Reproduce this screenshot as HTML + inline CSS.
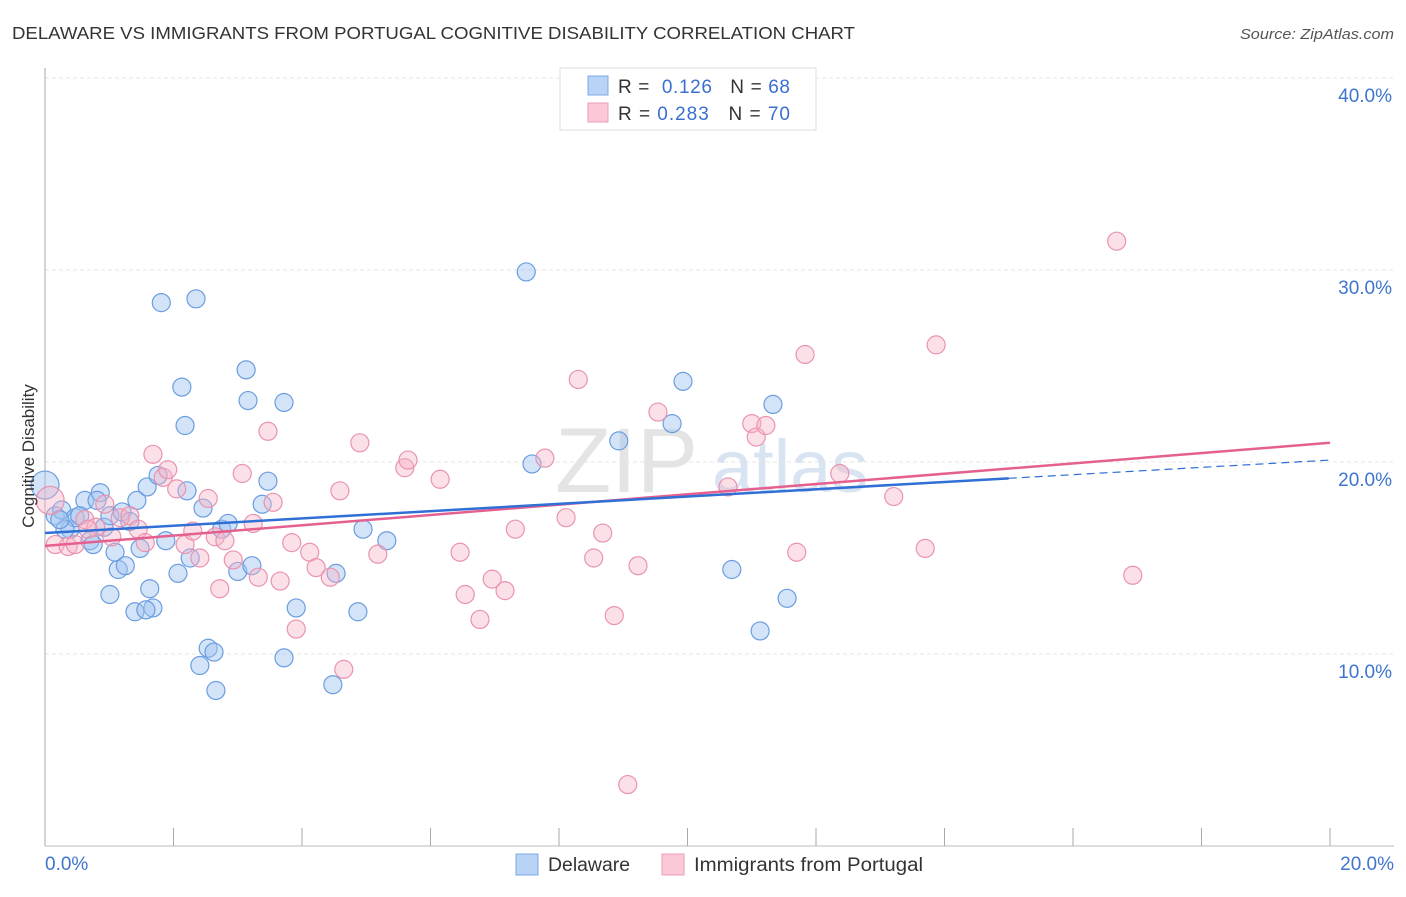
<!DOCTYPE html>
<html><head><meta charset="utf-8"><style>
body{margin:0;background:#fff;font-family:"Liberation Sans",sans-serif;}
svg text{font-family:"Liberation Sans",sans-serif;}
</style></head><body>
<svg id="chart" width="1406" height="892" viewBox="0 0 1406 892" xmlns="http://www.w3.org/2000/svg">
<text x="12" y="39" font-size="17.5" fill="#333" textLength="843" lengthAdjust="spacingAndGlyphs">DELAWARE VS IMMIGRANTS FROM PORTUGAL COGNITIVE DISABILITY CORRELATION CHART</text>
<text x="1240" y="39" font-size="14.5" fill="#555" font-style="italic" textLength="154" lengthAdjust="spacingAndGlyphs">Source: ZipAtlas.com</text>
<g><text x="555" y="492" font-size="92" fill="#e4e4e4" font-family="Liberation Serif">ZIP</text><text x="712" y="492" font-size="74" fill="#d9e4f2">atlas</text></g>
<g id="grid"></g>
<g id="axes"></g>
<g id="points"></g>
<g id="lines"></g>
<text transform="translate(34,456) rotate(-90)" font-size="17" fill="#333" text-anchor="middle">Cognitive Disability</text>
<g>
<rect x="560" y="68" width="256" height="62" fill="#fff" stroke="#ddd"/>
<rect x="588" y="76" width="20" height="19" fill="#b8d3f5" stroke="#7da8e4"/>
<rect x="588" y="103" width="20" height="19" fill="#fac8d7" stroke="#ed9db5"/>
<text x="618" y="93" font-size="19" fill="#333" textLength="172" lengthAdjust="spacing">R = <tspan fill="#3a6fd0">&#160;0.126</tspan>&#160;&#160;&#160;N = <tspan fill="#3a6fd0">68</tspan></text>
<text x="618" y="120" font-size="19" fill="#333" textLength="172" lengthAdjust="spacing">R = <tspan fill="#3a6fd0">0.283</tspan>&#160;&#160;&#160;N = <tspan fill="#3a6fd0">70</tspan></text>
</g>
<g>
<rect x="516" y="854" width="22" height="21" fill="#b8d3f5" stroke="#7da8e4"/>
<text x="548" y="871" font-size="19" fill="#333" textLength="82" lengthAdjust="spacingAndGlyphs">Delaware</text>
<rect x="662" y="854" width="22" height="21" fill="#fac8d7" stroke="#ed9db5"/>
<text x="694" y="871" font-size="19" fill="#333" textLength="229" lengthAdjust="spacingAndGlyphs">Immigrants from Portugal</text>
</g>
</svg>
<script>
const blueX=[0.0,0.16,0.26,0.39,0.47,0.62,0.70,0.86,0.81,0.92,1.01,1.09,1.14,1.20,1.25,1.01,1.40,1.48,1.43,1.59,1.63,1.68,1.57,1.76,1.81,1.88,2.07,2.13,2.18,2.21,2.26,2.35,2.46,2.54,2.63,2.41,2.66,2.75,2.85,3.00,3.13,3.16,3.22,3.38,3.47,3.72,3.72,3.91,4.48,4.53,4.87,4.95,5.32,7.49,7.58,8.93,9.76,9.93,10.69,11.13,11.33,11.55,1.32,0.54,0.75,0.31,0.23];
const blueY=[18.8,17.2,17.5,16.5,17.1,18.0,15.9,18.4,18.0,16.6,17.2,15.3,14.4,17.4,14.6,13.1,12.2,15.5,18.0,18.7,13.4,12.4,12.3,19.3,28.3,15.9,14.2,23.9,21.9,18.5,15.0,28.5,17.6,10.3,10.1,9.4,8.1,16.5,16.8,14.3,24.8,23.2,14.6,17.8,19.0,23.1,9.8,12.4,8.4,14.2,12.2,16.5,15.9,29.9,19.9,21.1,22.0,24.2,14.4,11.2,23.0,12.9,16.9,17.2,15.7,16.5,17.0];
const pinkX=[0.08,0.16,0.36,0.47,0.62,0.79,0.93,1.04,1.17,1.32,1.45,1.56,1.68,1.84,1.91,2.05,2.18,2.30,2.41,2.54,2.65,2.72,2.80,2.93,3.07,3.24,3.32,3.47,3.55,3.66,3.84,3.91,4.12,4.22,4.44,4.59,4.65,4.90,5.18,5.60,5.65,6.15,6.46,6.54,6.77,6.96,7.16,7.32,7.78,8.11,8.30,8.54,8.68,8.86,9.07,9.23,9.54,10.63,11.00,11.07,11.22,11.70,11.83,12.37,13.21,13.70,13.87,16.68,16.93,0.67];
const pinkY=[18.0,15.7,15.6,15.7,17.0,16.6,17.8,16.1,17.1,17.2,16.5,15.8,20.4,19.2,19.6,18.6,15.7,16.4,15.0,18.1,16.1,13.4,15.9,14.9,19.4,16.8,14.0,21.6,17.9,13.8,15.8,11.3,15.3,14.5,14.0,18.5,9.2,21.0,15.2,19.7,20.1,19.1,15.3,13.1,11.8,13.9,13.3,16.5,20.2,17.1,24.3,15.0,16.3,12.0,3.2,14.6,22.6,18.7,22.0,21.3,21.9,15.3,25.6,19.4,18.2,15.5,26.1,31.5,14.1,16.5];
const yTicks=[10,20,30,40];
const yTickLabels=["10.0%","20.0%","30.0%","40.0%"];
const xTickLabels=["0.0%","20.0%"];
const blueTrend=[[0,16.3],[15.0,19.15]];
const blueTrendExt=[[15.0,19.15],[20,20.1]];
const pinkTrend=[[0,15.63],[20,21.0]];

const NS="http://www.w3.org/2000/svg";
const X0=45,X1=1330,Y0=846,PX=19.2;
function sx(v){return X0+(v/20)*(X1-X0);}
function sy(v){return Y0-v*PX;}
function mk(tag,attrs,parent){const e=document.createElementNS(NS,tag);for(const k in attrs)e.setAttribute(k,attrs[k]);parent.appendChild(e);return e;}
const grid=document.getElementById('grid'),axes=document.getElementById('axes'),pts=document.getElementById('points'),lines=document.getElementById('lines');
yTicks.forEach((t,i)=>{
 const l=mk('line',{x1:X0,x2:1394,y1:sy(t),y2:sy(t),stroke:'#e6e6e6','stroke-dasharray':'4,3'},grid);
 
 
 const tx=mk('text',{x:1392,y:sy(t)+24,'font-size':'19',fill:'#3f75cf','text-anchor':'end'},grid);
 tx.textContent=yTickLabels[i];
 
 
});
const ya=mk('line',{x1:X0,x2:X0,y1:68,y2:Y0,stroke:'#aaa'},axes);


const xa=mk('line',{x1:X0,x2:1394,y1:Y0,y2:Y0,stroke:'#bbb'},axes);


for(let i=0;i<=10;i++){
 const tk=mk('line',{x1:sx(i*2),x2:sx(i*2),y1:828,y2:Y0,stroke:'#aaa'},axes);
 
 
}
[[0,'start',45],[20,'end',1394]].forEach((d,i)=>{
 const tx=mk('text',{x:d[2],y:870,'font-size':'19',fill:'#3f75cf','text-anchor':d[1]},axes);
 tx.textContent=xTickLabels[i];
 
 
});
function dots(xs,ys,fill,stroke,name){
 xs.forEach((x,i)=>{
  const r=(i===0)?14:9;
  const c=mk('circle',{cx:sx(x),cy:sy(ys[i]),r:r,fill:fill,stroke:stroke,'stroke-width':1.2},pts);
  
  
 });
}
dots(blueX,blueY,'rgba(160,196,240,0.45)','#6a9de0','delaware-point');
dots(pinkX,pinkY,'rgba(248,178,198,0.4)','#e993b0','portugal-point');
function ln(p,color,dash,name){
 const a={x1:sx(p[0][0]),y1:sy(p[0][1]),x2:sx(p[1][0]),y2:sy(p[1][1]),stroke:color,'stroke-width':dash?1.2:2.5};
 if(dash)a['stroke-dasharray']='8,5';
 const l=mk('line',a,lines);
 
 
}
ln(pinkTrend,'#e5608f',false,'portugal-trend-line');
ln(blueTrend,'#2f6fd6',false,'delaware-trend-line');
ln(blueTrendExt,'#2f6fd6',true,'delaware-trend-extension');
</script>
</body></html>
